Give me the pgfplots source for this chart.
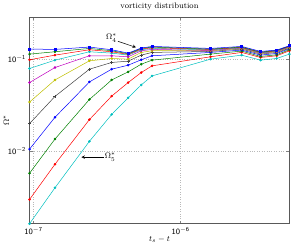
\documentclass[border=0pt]{standalone}
\usepackage{pgfplots}
\usepackage{pgfplotstable}
\pgfplotsset{compat=1.18}
\definecolor{mb}{rgb}{0,0,1}
\definecolor{mg}{rgb}{0,0.5,0}
\definecolor{mr}{rgb}{1,0,0}
\definecolor{mc}{rgb}{0,0.75,0.75}
\definecolor{mm}{rgb}{0.75,0,0.75}
\definecolor{my}{rgb}{0.75,0.75,0}
\definecolor{mk}{rgb}{0.25,0.25,0.25}
\pgfplotstableread{
x        s1     s2     s3     s4     s5     s6     s7     s8     s9     s10     s11
0.94e-7  0.1288 0.1135 0.0984 0.0790 0.0555 0.0340 0.0198 0.01042 0.00569 0.00294 0.0016
1.4e-7   0.1277 0.1204 0.1106 0.0975 0.0810 0.0593 0.0392 0.0232 0.01343 0.00713 0.00395
2.4e-7   0.1355 0.1309 0.1266 0.1204 0.1088 0.0959 0.0777 0.0564 0.0363 0.0219 0.01268
3.4e-7   0.1266 0.1235 0.1204 0.1164 0.1088 0.1017 0.0920 0.0777 0.0593 0.0395 0.0249
4.4e-7   0.1164 0.1144 0.1125 0.1106 0.1061 0.1000 0.0951 0.0859 0.0726 0.0555 0.0379
5.4e-7   0.1321 0.1309 0.1288 0.1266 0.1235 0.1184 0.1106 0.0984 0.0881 0.0714 0.0523
6.4e-7   0.1377 0.1355 0.1332 0.1309 0.1277 0.1235 0.1184 0.1088 0.0975 0.0845 0.0656
1.6e-6   0.1309 0.1288 0.1277 0.1266 0.1245 0.1235 0.1214 0.1184 0.1135 0.1061 0.1000
2.6e-6   0.1377 0.1355 0.1343 0.1332 0.1321 0.1309 0.1288 0.1256 0.1224 0.1184 0.1106
3.5e-6   0.1214 0.1194 0.1184 0.1174 0.1164 0.1154 0.1135 0.1106 0.1070 0.1043 0.0975
4.5e-6   0.1256 0.1245 0.1235 0.1224 0.1214 0.1204 0.1184 0.1154 0.1116 0.1088 0.1017
5.5e-6   0.1401 0.1390 0.1377 0.1366 0.1355 0.1343 0.1321 0.1299 0.1266 0.1235 0.1135
}\data
\begin{document}
\begin{tikzpicture}
\begin{loglogaxis}[
  scale only axis,
  width=258pt, height=205pt,
  xmin=0.94e-7, xmax=5.5e-6,
  ymin=0.0016, ymax=0.287,
  xtick={1e-7,1e-6}, xticklabels={$\mathsf{10^{-7}}$,$\mathsf{10^{-6}}$},
  ytick={1e-2,1e-1}, yticklabels={$\mathsf{10^{-2}}$,$\mathsf{10^{-1}}$},
  minor tick length=0pt,
  tick label style={font=\footnotesize},
  major tick length=3pt,
  grid=major,
  major grid style={dotted, gray!55, line width=0.4pt},
  axis line style={black!65, line width=0.6pt},
  title={vorticity distribution},
  title style={font=\footnotesize, yshift=-3pt},
  xlabel={$t_s - t$},
  ylabel={$\Omega^*$},
  label style={font=\footnotesize},
  xlabel style={yshift=4pt},
  ylabel style={yshift=-8pt},
  every axis plot/.append style={line width=0.5pt, mark=*, mark size=1pt},
  clip=false,
]
\addplot[color=mc] table[x=x,y=s11] {\data};
\addplot[color=mr] table[x=x,y=s10] {\data};
\addplot[color=mg] table[x=x,y=s9] {\data};
\addplot[color=mb] table[x=x,y=s8] {\data};
\addplot[color=mk, mark=+, mark size=1.5pt] table[x=x,y=s7] {\data};
\addplot[color=my] table[x=x,y=s6] {\data};
\addplot[color=mm] table[x=x,y=s5] {\data};
\addplot[color=mc] table[x=x,y=s4] {\data};
\addplot[color=mr] table[x=x,y=s3] {\data};
\addplot[color=mg] table[x=x,y=s2] {\data};
\addplot[color=mb, mark=square*] table[x=x,y=s1] {\data};
\draw[-stealth, black, line width=0.5pt] (axis cs:3.75e-7,0.1566) -- (axis cs:4.97e-7,0.1345);
\node[anchor=east, font=\footnotesize, inner sep=1pt, yshift=3pt] at (axis cs:3.75e-7,0.1566) {$\Omega_4^*$};
\draw[-stealth, black, line width=0.5pt] (axis cs:3.0e-7,0.00853) -- (axis cs:2.12e-7,0.00853);
\node[anchor=west, font=\footnotesize, inner sep=1pt] at (axis cs:3.0e-7,0.00853) {$\Omega_5^*$};
\end{loglogaxis}
\end{tikzpicture}
\end{document}
